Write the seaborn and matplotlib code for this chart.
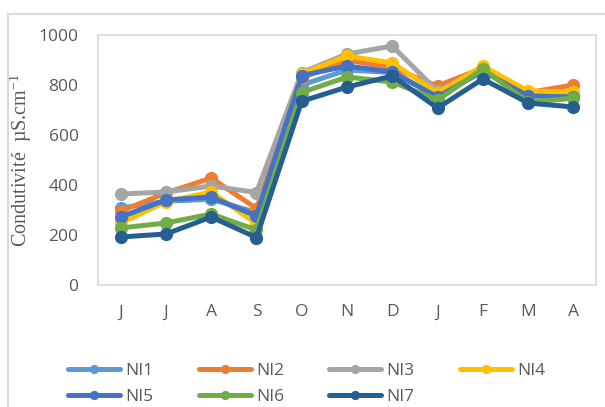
import matplotlib
matplotlib.use('Agg')
import matplotlib.pyplot as plt
from matplotlib.patches import Rectangle
import numpy as np
import pandas as pd
import seaborn as sns

months = ['J', 'J', 'A', 'S', 'O', 'N', 'D', 'J', 'F', 'M', 'A']
stations = ['NI1', 'NI2', 'NI3', 'NI4', 'NI5', 'NI6', 'NI7']

ni1 = [308, 335, 343, 290, 800, 860, 850, 755, 860, 762, 760]
ni2 = [295, 368, 428, 306, 828, 900, 868, 796, 868, 770, 800]
ni3 = [364, 372, 396, 370, 850, 924, 956, 775, 865, 765, 765]
ni4 = [248, 333, 372, 245, 845, 916, 888, 768, 876, 776, 772]
ni5 = [272, 340, 352, 276, 838, 876, 852, 752, 855, 756, 752]
ni6 = [228, 248, 284, 220, 770, 832, 812, 740, 864, 732, 747]
ni7 = [192, 204, 272, 190, 735, 792, 836, 708, 824, 728, 712]

colors = ['#5B9BD5', '#ED7D31', '#A5A5A5', '#FFC000',
          '#4472C4', '#70AD47', '#255E91']

series = [ni1, ni2, ni3, ni4, ni5, ni6, ni7]
df = pd.DataFrame({
    'pos': np.tile(np.arange(len(months)), len(stations)),
    'value': np.concatenate(series),
    'station': np.repeat(stations, len(months)),
})

sns.set_style('white')
plt.rcParams['font.family'] = ['Open Sans', 'DejaVu Sans']

fig = plt.figure(figsize=(6.05, 4.07), dpi=100)
ax = fig.add_axes([98 / 605, 1 - 285 / 407, 498 / 605, 250 / 407])

for name, color in zip(stations, colors):
    sub = df[df['station'] == name]
    sns.lineplot(data=sub, x='pos', y='value', ax=ax, color=color,
                 marker='o', markersize=9.5, markeredgewidth=0,
                 linewidth=3.6, label=name, legend=False)

ax.set_xlim(-0.5, len(months) - 0.5)
ax.set_ylim(0, 1000)
ax.set_yticks(range(0, 1001, 200))
ax.set_xticks(range(len(months)))
ax.set_xticklabels(months)
ax.tick_params(axis='both', length=0, labelsize=12.5, colors='#595959')
ax.tick_params(axis='x', pad=14)
ax.tick_params(axis='y', pad=14)
ax.set_xlabel('')
ax.set_ylabel('Condutivité  µS.cm$^{\\mathregular{-1}}$',
              family='Liberation Serif', fontsize=14.5, color='#595959',
              labelpad=3)
for sp in ax.spines.values():
    sp.set_color('#D9D9D9')
    sp.set_linewidth(1.2)

# legend filled row by row: NI1..NI4 on top, NI5..NI7 below
handles, labels = ax.get_legend_handles_labels()
order = [0, 4, 1, 5, 2, 6, 3]
leg = fig.legend([handles[i] for i in order], [labels[i] for i in order],
                 ncol=4, loc='upper left',
                 bbox_to_anchor=(68 / 605, 1 - 363 / 407), frameon=False,
                 fontsize=12.5, handlelength=3.0, handletextpad=0.3,
                 columnspacing=2.6, labelspacing=0.55, markerscale=0.7,
                 borderaxespad=0, borderpad=0)
for t in leg.get_texts():
    t.set_color('#595959')

fig.patches.append(Rectangle((8 / 605, -0.1), 1.2, 1 - 14 / 407 + 0.1,
                             transform=fig.transFigure, fill=False,
                             edgecolor='#D9D9D9', linewidth=1.5))

fig.savefig('out.png', dpi=100)
